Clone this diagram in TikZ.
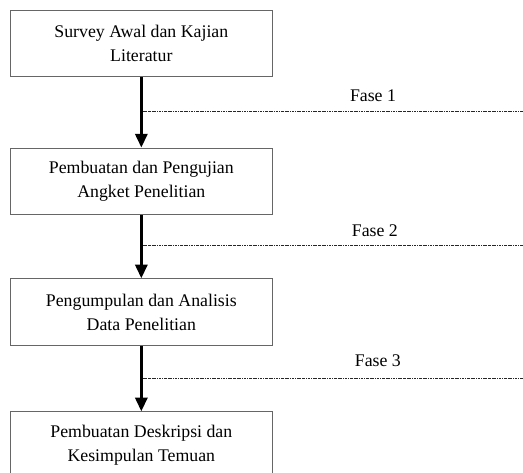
\documentclass[tikz,border=0pt]{standalone}
\usepackage{fontspec}
\setmainfont{Liberation Serif}
\usetikzlibrary{arrows.meta,positioning}

\tikzset{
  tahap/.style={draw=black!60, line width=0.6pt, minimum width=6.91cm, minimum height=1.77cm,
    align=center, font=\fontsize{13.4}{18}\selectfont},
  alur/.style={line width=2pt, -{Triangle[length=3.6mm, width=3.2mm]}},
  fase/.style={line width=0.55pt, black!85, dash pattern=on 2pt off 0.7pt on 0.6pt off 0.7pt},
  label/.style={font=\fontsize{13.4}{16}\selectfont}
}

\begin{document}
\begin{tikzpicture}
\useasboundingbox (0,0) rectangle (13.84,12.51);

\node[tahap] (s1) at (3.74,11.36) {Survey Awal dan Kajian\\Literatur};
\node[tahap] (s2) at (3.74,7.71) {Pembuatan dan Pengujian\\Angket Penelitian};
\node[tahap] (s3) at (3.74,4.25) {Pengumpulan dan Analisis\\Data Penelitian};
\node[tahap] (s4) at (3.74,0.73) {Pembuatan Deskripsi dan\\Kesimpulan Temuan};

\draw[alur] (s1) -- (s2);
\draw[alur] (s2) -- (s3);
\draw[alur] (s3) -- (s4);

\coordinate (f1a) at (3.78,9.55);
\coordinate (f1b) at (13.84,9.55);
\coordinate (f2a) at (3.78,6.01);
\coordinate (f2b) at (13.84,6.01);
\coordinate (f3a) at (3.78,2.51);
\coordinate (f3b) at (13.84,2.51);

\draw[fase] (f1a) -- (f1b);
\draw[fase] (f2a) -- (f2b);
\draw[fase] (f3a) -- (f3b);

\node[label] (l1) at (9.87,9.97) {Fase 1};
\node[label] (l2) at (9.92,6.40) {Fase 2};
\node[label] (l3) at (10.0,2.96) {Fase 3};
\end{tikzpicture}
\end{document}
